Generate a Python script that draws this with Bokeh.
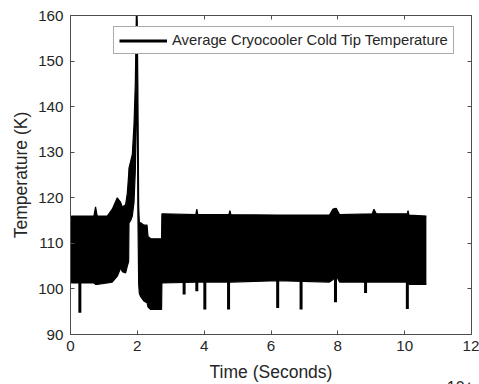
from bokeh.plotting import figure
from bokeh.models import (LinearAxis, FixedTicker, Title, Range1d, ColumnDataSource,
                          Legend, LegendItem)
from bokeh.embed import file_html
from bokeh.resources import INLINE

# ---- data (time in seconds, temperature in K) ----
band_time = [0, 300, 7000, 7500, 8000, 11000, 12500, 14000, 15000, 15500, 16500,
             17000, 17400, 17500, 18000, 18500, 19000, 19400, 19700, 19950, 20150,
             20400, 20600, 21000, 22000, 22900, 23200, 24000, 27250, 27350,
             37500, 37800, 38100, 47400, 47700, 48000, 62000, 77500, 78500, 79500,
             80500, 90300, 90800, 91500, 100800, 101000, 101300, 106500]
band_upper = [113, 116, 116, 118, 116, 116, 117.5, 120, 119, 118, 118.5,
              121, 125, 126.5, 128, 129.5, 136, 145, 160, 160, 145,
              118, 114.5, 114.5, 114, 114, 111.5, 111, 111, 116.5,
              116.3, 117.5, 116.3, 116.3, 117.2, 116.3, 116.2, 116.2, 117.5, 117.7,
              116.3, 116.5, 117.5, 116.5, 116.5, 117.2, 116.2, 116]
band_lower = [102, 101.3, 101.3, 101, 101, 101.3, 101.5, 102.8, 104.6, 103.8, 103.5,
              105, 106, 114.5, 115, 116, 119, 126, 137, 150, 118,
              101, 99, 98.3, 97.3, 97, 96, 95.5, 95.5, 101.3,
              101.5, 101.5, 101.5, 101.5, 101.5, 101.5, 101.8, 101.5, 102, 103,
              101.5, 101.5, 101.5, 101.5, 101.5, 101.5, 101, 101]

spike_time = [2800, 34000, 37800, 40200, 47300, 62000, 69000, 79300, 88300, 100800]
spike_min = [94.8, 98.8, 99.5, 95.5, 95.5, 95.8, 95.5, 97.1, 99.1, 95.6]

x_ticks = [0, 20000, 40000, 60000, 80000, 100000, 120000]
x_tick_labels = ["0", "2", "4", "6", "8", "10", "12"]
y_ticks = [90, 100, 110, 120, 130, 140, 150, 160]

series_label = "Average Cryocooler Cold Tip Temperature"
exponent_text = "×10⁴"

FONT = "Liberation Sans"
AX = "#4d4d4d"
TXT = "#262626"

p = figure(width=479, height=384, x_range=Range1d(0, 120000), y_range=Range1d(90, 160),
           output_backend="svg", toolbar_location=None,
           min_border_left=70, min_border_right=8, min_border_top=15, min_border_bottom=49)
p.outline_line_color = None
p.xgrid.visible = False
p.ygrid.visible = False
p.background_fill_color = "white"
p.border_fill_color = "white"

band = ColumnDataSource(dict(t=band_time, up=band_upper, lo=band_lower))
p.varea(x="t", y1="lo", y2="up", source=band, fill_color="black")
p.line(x="t", y="up", source=band, line_color="black", line_width=1.2)
p.line(x="t", y="lo", source=band, line_color="black", line_width=1.2)

spikes = ColumnDataSource(dict(t=spike_time, mn=spike_min, top=[105] * len(spike_time)))
seg = p.segment(x0="t", y0="mn", x1="t", y1="top", source=spikes,
                line_color="black", line_width=3)

def style_axis(ax, ticks, labels=True):
    ax.ticker = FixedTicker(ticks=ticks)
    ax.axis_line_color = AX
    ax.major_tick_line_color = AX
    ax.minor_tick_line_color = None
    ax.major_tick_in = 4
    ax.major_tick_out = 0
    ax.major_label_text_font = FONT
    ax.major_label_text_color = TXT
    ax.axis_label_text_font = FONT
    ax.axis_label_text_color = TXT
    ax.axis_label_text_font_style = "normal"
    ax.major_label_text_font_size = "15.2px"
    ax.axis_label_text_font_size = "17.5px"
    if not labels:
        ax.major_label_overrides = {t: "" for t in ticks}
        ax.major_label_standoff = 0

xb = p.xaxis[0]
style_axis(xb, x_ticks)
xb.major_label_overrides = {t: l for t, l in zip(x_ticks, x_tick_labels)}
xb.axis_label = "Time (Seconds)"
xb.major_label_standoff = 6
xb.axis_label_standoff = 8

yl = p.yaxis[0]
style_axis(yl, y_ticks)
yl.axis_label = "Temperature (K)"
yl.major_label_standoff = 7
yl.axis_label_standoff = 4

xt = LinearAxis()
style_axis(xt, x_ticks, labels=False)
p.add_layout(xt, "above")
yr = LinearAxis()
style_axis(yr, y_ticks, labels=False)
p.add_layout(yr, "right")

legend = Legend(items=[LegendItem(label=series_label, renderers=[seg])],
                location=(43, 280), padding=5, spacing=0, margin=0,
                glyph_width=48, glyph_height=15, label_height=15, label_standoff=5,
                label_text_font=FONT, label_text_font_size="14.8px", label_text_color=TXT,
                border_line_color="#555555", border_line_width=1,
                background_fill_color="white", background_fill_alpha=1)
p.add_layout(legend)

# "×10^4" multiplier at the right end, below the axis
mult = Title(text=exponent_text, align="right", standoff=-22, offset=0,
             text_font=FONT, text_font_size="16px", text_font_style="normal",
             text_color=TXT)
p.add_layout(mult, "below")

open("out.html", "w").write(file_html(p, INLINE))
